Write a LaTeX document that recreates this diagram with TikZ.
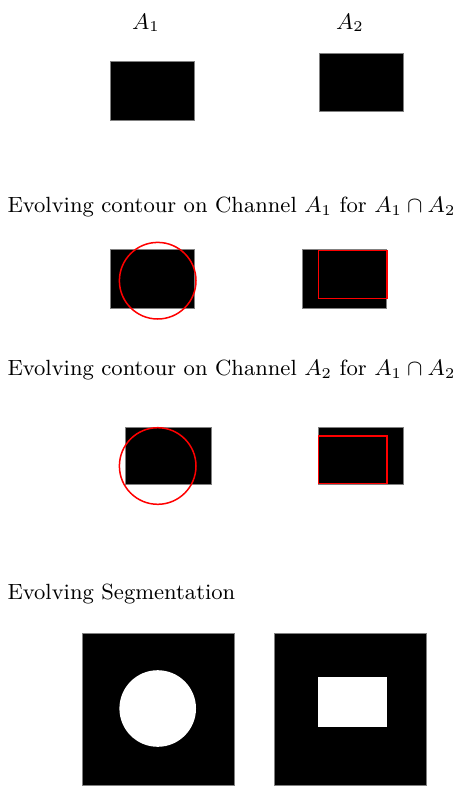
\documentclass[tikz,border=0pt]{standalone}
\usepackage{amsmath}
\usepackage{amssymb}
\begin{document}
\begin{tikzpicture}[x=0.4pt ,y=-0.4pt ,
blob/.style ={fill=black ,draw=gray ,line width=0.4pt},
contour/.style ={draw=red ,line width=0.6pt},
hole/.style ={fill=white},
caption/.style ={anchor=base west ,inner sep=0pt ,font=\fontsize{8.8}{11}\selectfont},
chan/.style ={anchor=base ,inner sep=0pt ,font=\fontsize{9}{11}\selectfont}]
\useasboundingbox (0,0) rectangle (472,799);
% input channels
\node[chan] (A1) at (146,29.3) {$A_1$};
\node[chan] (A2) at (350,29.3) {$A_2$};
\draw[blob] (110,62) rectangle (194,121);
\draw[blob] (319,54) rectangle (403,112);
% contour on channel A1
\node[caption] (C1) at (7,212.7) {Evolving contour on Channel $A_1$ for $A_1\cap A_2$};
\draw[blob] (110,249) rectangle (194,308);
\draw[contour] (157.7,280.7) circle (38.3);
\draw[blob] (302,249) rectangle (386,308);
\draw[contour] (318.7,250.3) rectangle (387,298.7);
% contour on channel A2
\node[caption] (C2) at (7,375.7) {Evolving contour on Channel $A_2$ for $A_1\cap A_2$};
\draw[blob] (125.7,427.3) rectangle (211.3,484.3);
\draw[contour] (157.7,466) circle (38.3);
\draw[blob] (318.3,427.3) rectangle (403.7,484.3);
\draw[contour] (318.7,436) rectangle (387,483.7);
% segmentation
\node[caption] (C3) at (7,599.3) {Evolving Segmentation};
\draw[blob] (82,633.3) rectangle (234,785);
\fill[hole] (157.7,708.5) circle (38.3);
\draw[blob] (274,633.3) rectangle (426.3,785);
\fill[hole] (318.3,677.3) rectangle (386.7,726.7);
\end{tikzpicture}
\end{document}
